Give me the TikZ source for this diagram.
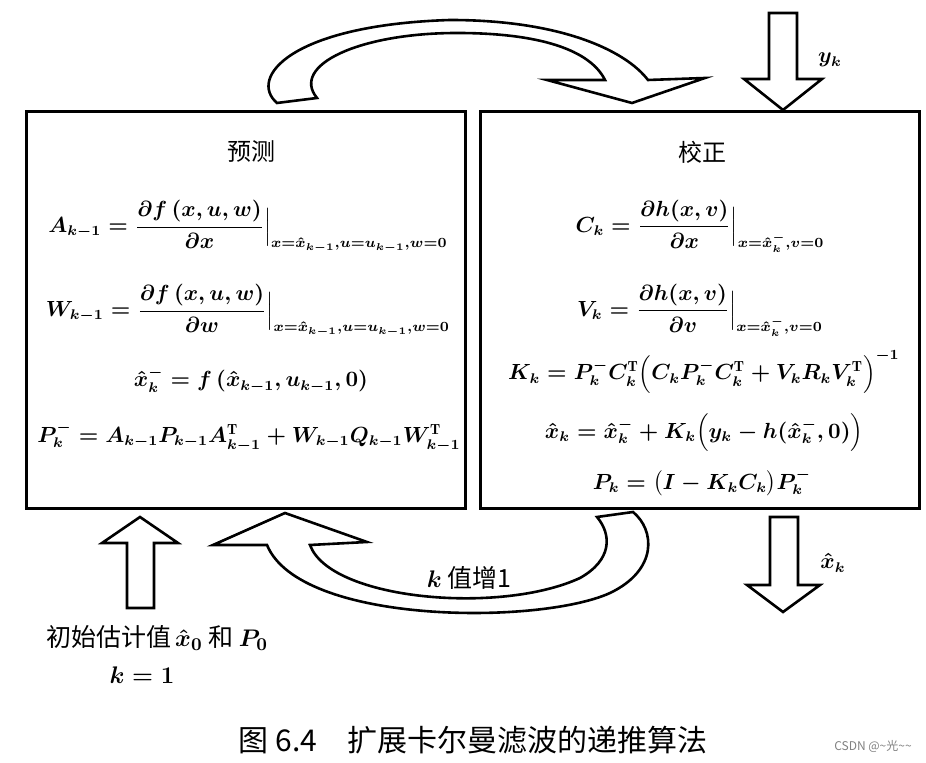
\documentclass[tikz,border=0pt]{standalone}
\usepackage{amsmath,amssymb}
\usepackage{fontspec}
\newfontfamily\cjk{Noto Sans CJK SC}
\usetikzlibrary{calc}

\begin{document}
\begin{tikzpicture}[x=0.5pt,y=-0.5pt,
    panel/.style={draw,line width=1.5pt,minimum width=219.5pt,minimum height=198.5pt,inner sep=0pt},
    heading/.style={font=\fontsize{12}{14}\selectfont\cjk},
    eqn/.style={font=\fontsize{10.5}{13}\selectfont\boldmath,inner sep=1pt},
    note/.style={font=\fontsize{12.5}{15}\selectfont\cjk\boldmath,inner sep=1pt},
    fatarrow/.style={draw,line width=1.3pt,fill=white,line join=miter}
  ]
  \useasboundingbox (0,0) rectangle (926,763);
  % Boxes
  \node[panel] (pred) at (245.5,310.5) {};
  \node[panel] (corr) at (700,310.5) {};
  \node[heading] (predtitle) at (251,152) {预测};
  \node[heading] (corrtitle) at (702,152) {校正};
  % Prediction
  \node[eqn] (eqA) at (248,226) {$A_{k-1}=\dfrac{\partial f\,(x,u,w)}{\partial x}\Big|_{x=\hat{x}_{k-1},u=u_{k-1},w=0}$};
  \node[eqn] (eqW) at (248,310) {$W_{k-1}=\dfrac{\partial f\,(x,u,w)}{\partial w}\Big|_{x=\hat{x}_{k-1},u=u_{k-1},w=0}$};
  \node[eqn] (eqxp) at (251,380) {$\hat{x}_k^-=f\,(\hat{x}_{k-1},u_{k-1},0)$};
  \node[eqn] (eqPp) at (249,437) {$P_k^-=A_{k-1}P_{k-1}A_{k-1}^{\mathrm{T}}+W_{k-1}Q_{k-1}W_{k-1}^{\mathrm{T}}$};
  % Correction
  \node[eqn] (eqC) at (700,226) {$C_k=\dfrac{\partial h(x,v)}{\partial x}\Big|_{x=\hat{x}_k^-,v=0}$};
  \node[eqn] (eqV) at (700,310) {$V_k=\dfrac{\partial h(x,v)}{\partial v}\Big|_{x=\hat{x}_k^-,v=0}$};
  \node[eqn] (eqK) at (704,372) {$K_k=P_k^-C_k^{\mathrm{T}}\Big(C_kP_k^-C_k^{\mathrm{T}}+V_kR_kV_k^{\mathrm{T}}\Big)^{-1}$};
  \node[eqn] (eqx) at (704,433) {$\hat{x}_k=\hat{x}_k^-+K_k\Big(y_k-h(\hat{x}_k^-,0)\Big)$};
  \node[eqn] (eqP) at (702,483) {$P_k=\big(I-K_kC_k\big)P_k^-$};
  % Measurement in, estimate out
  \draw[fatarrow] (769,13) -- (797,13) -- (797,79) -- (822,79) -- (783,110) -- (744,79) -- (769,79) -- cycle;
  \node[eqn] (ylab) at (830,60) {$y_k$};
  \draw[fatarrow] (770,517) -- (798,517) -- (798,585) -- (820,585) -- (783,612) -- (747,585) -- (770,585) -- cycle;
  \node[eqn] (xlab) at (833,563) {$\hat{x}_k$};
  % Initial values
  \draw[fatarrow] (127,608) -- (154,608) -- (154,543) -- (178,543) -- (140,517) -- (102,543) -- (127,543) -- cycle;
  \node[note] (init) at (157,638) {初始估计值\,$\hat{x}_0$ 和 $P_0$};
  \node[eqn,font=\fontsize{12}{14}\selectfont\boldmath] (kone) at (142,675) {$k=1$};
  % Prediction -> correction
  \draw[fatarrow] (277,103) .. controls (248,78) and (290,25) .. (450,20)
    .. controls (560,20) and (625,50) .. (648,80) -- (705,78) -- (632,103) -- (547,80) -- (605,80)
    .. controls (590,50) and (540,33) .. (457,33)
    .. controls (360,33) and (290,65) .. (317,98) -- cycle;
  % Correction -> prediction
  \draw[fatarrow] (597,517) .. controls (612,535) and (612,560) .. (580,578)
    .. controls (500,615) and (330,600) .. (310,545) -- (367,542) -- (285,513) -- (213,545) -- (267,545)
    .. controls (300,625) and (540,625) .. (610,593)
    .. controls (658,570) and (655,530) .. (633,512) -- cycle;
  \node[note] (kinc) at (469,578) {$k$ 值增1};
  % Caption
  \node[font=\fontsize{15}{18}\selectfont\cjk] (caption) at (473,740) {图 6.4\quad 扩展卡尔曼滤波的递推算法};
  \node[font=\fontsize{6}{7}\selectfont\cjk,text=gray] (mark) at (873,746) {CSDN @\textasciitilde 光\textasciitilde\textasciitilde};
\end{tikzpicture}
\end{document}
